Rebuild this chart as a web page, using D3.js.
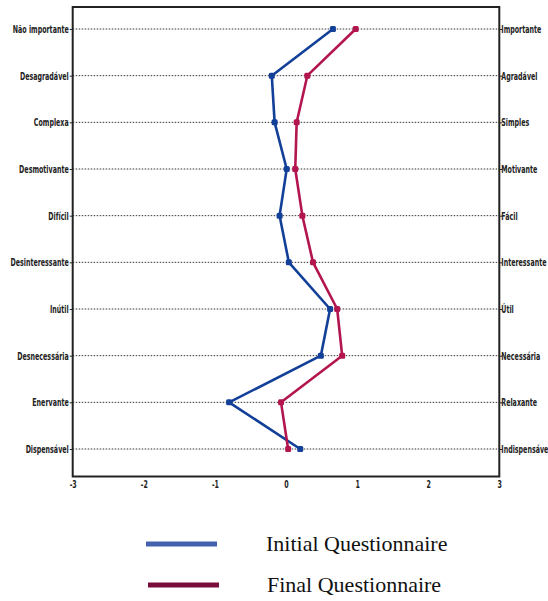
<!DOCTYPE html>
<html><head><meta charset="utf-8">
<script src="https://cdn.jsdelivr.net/npm/d3@7"></script>
<style>body{margin:0;background:#fff}</style>
</head><body>
<svg id="c" width="548" height="601"></svg>
<script>
const leftLabels = ["Não importante","Desagradável","Complexa","Desmotivante","Difícil","Desinteressante","Inútil","Desnecessária","Enervante","Dispensável"];
const rightLabels = ["Importante","Agradável","Simples","Motivante","Fácil","Interessante","Útil","Necessária","Relaxante","Indispensável"];
const initialValues = [0.66,-0.20,-0.16,0.01,-0.09,0.04,0.62,0.49,-0.80,0.20];
const finalValues = [0.98,0.30,0.15,0.13,0.23,0.38,0.72,0.79,-0.07,0.03];
const xTicks = [-3,-2,-1,0,1,2,3];
const seriesNames = ["Initial Questionnaire","Final Questionnaire"];

const svg = d3.select("#c");
const L=72.7, R=499.3, T=7, B=476.5;
const x = d3.scaleLinear().domain([-3,3]).range([L,R]);
const y = d3.scalePoint().domain(leftLabels).range([29,449]);
const yR = d3.scalePoint().domain(rightLabels).range([29,449]);
const labFont = "'DejaVu Sans',sans-serif";

// gridlines
svg.append("g").selectAll("line").data(leftLabels).join("line")
  .attr("x1",L).attr("x2",R).attr("y1",d=>y(d)).attr("y2",d=>y(d))
  .attr("stroke","#333").attr("stroke-width",1).attr("stroke-dasharray","1.5,1.5");

const la = svg.append("g").attr("transform",`translate(${L},0)`).call(d3.axisLeft(y).tickSize(3).tickPadding(1));
const ra = svg.append("g").attr("transform",`translate(${R},0)`).call(d3.axisRight(yR).tickSize(3).tickPadding(-1));
const ba = svg.append("g").attr("transform",`translate(0,${B})`).call(d3.axisBottom(x).tickValues(xTicks).tickSize(0).tickPadding(4).tickFormat(d3.format("d")));
[la,ra,ba].forEach(g=>{
  g.select(".domain").remove();
  g.selectAll("text").attr("font-family",labFont).attr("font-weight","bold").attr("font-size","10.5px").attr("fill","#222");
  g.selectAll("line").attr("stroke","#222");
});
ba.selectAll("text").text(d=>d<0?"-"+Math.abs(d):d);

// condense labels horizontally to match narrow reference font
const refW = la.selectAll("text").filter(d=>d===leftLabels[0]).node().getComputedTextLength();
const k = 56/refW;
la.selectAll("text").attr("transform",`scale(${k},1)`).attr("x",-4/k);
ra.selectAll("text").attr("transform",`scale(${k},1)`).attr("x",2/k);
ba.selectAll("text").attr("transform",`scale(${k},1)`);

// frame
svg.append("rect").attr("x",L).attr("y",T).attr("width",R-L).attr("height",B-T)
  .attr("fill","none").attr("stroke","#222").attr("stroke-width",2);

const series = [
  {vals:initialValues, color:"#123f98"},
  {vals:finalValues, color:"#b3154f"}
];
const line = d3.line().x(d=>x(d.v)).y(d=>y(d.k));
series.forEach(s=>{
  const pts = s.vals.map((v,i)=>({v,k:leftLabels[i]}));
  svg.append("path").datum(pts).attr("d",line).attr("fill","none")
    .attr("stroke",s.color).attr("stroke-width",2.6).attr("stroke-linejoin","round");
  svg.append("g").selectAll("rect").data(pts).join("rect")
    .attr("x",d=>x(d.v)-3).attr("y",d=>y(d.k)-3).attr("width",6).attr("height",6)
    .attr("rx",1.5).attr("fill",s.color);
});

// legend
const legColors = ["#4262b0","#7a0c3c"];
const leg = svg.append("g");
seriesNames.forEach((n,i)=>{
  const yy = 544 + i*41;
  leg.append("line").attr("x1",146+i*2).attr("x2",217+i*2).attr("y1",yy).attr("y2",yy)
    .attr("stroke",legColors[i]).attr("stroke-width",5);
  leg.append("text").attr("x",266+i*1).attr("y",yy+7).text(n)
    .attr("font-family","'Liberation Serif','Times New Roman',serif").attr("font-size","22px").attr("fill","#111");
});
</script>
</body></html>
